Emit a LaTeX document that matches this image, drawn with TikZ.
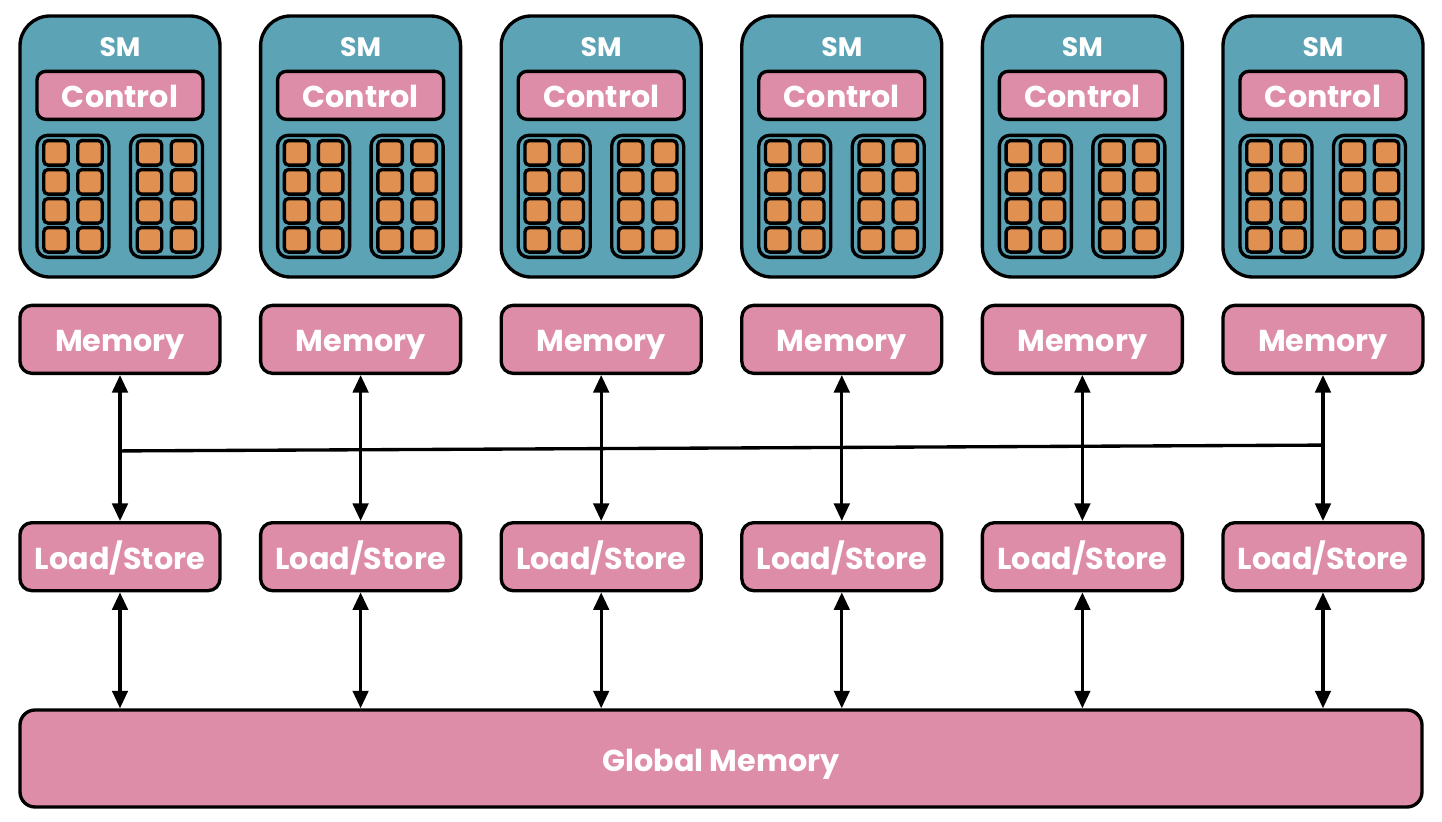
\documentclass[tikz,border=0pt]{standalone}
\usepackage{fontspec}
\setmainfont{Poppins}
\usetikzlibrary{arrows.meta,positioning,calc}
\definecolor{smteal}{RGB}{91,163,181}
\definecolor{boxpink}{RGB}{222,141,168}
\definecolor{coreorange}{RGB}{224,144,80}

\begin{document}
\begin{tikzpicture}[>={Triangle[length=5pt,width=4.4pt]},line width=0.95pt]
  \tikzstyle{smblock}=[draw,fill=smteal,rounded corners=8.5pt,minimum width=2cm,minimum height=2.61cm]
  \tikzstyle{pinkblock}=[draw,fill=boxpink,rounded corners=3.4pt,text=white,font=\bfseries\fontsize{8.6}{10}\selectfont,inner sep=0pt,text height=7.2pt,text depth=0pt]
  \tikzstyle{coregroup}=[draw,rounded corners=3pt,minimum width=0.72cm,minimum height=1.22cm]
  \tikzstyle{coreblock}=[draw,fill=coreorange,rounded corners=1.2pt,minimum size=0.245cm,inner sep=0pt]
  \useasboundingbox (0,0) rectangle (14.42,-8.22);
  \foreach \i in {1,...,6}{
    \node[smblock] (sm\i) at ({1.20+(\i-1)*2.406},-1.465) {};
    \node[text=white,font=\bfseries\fontsize{7.6}{9}\selectfont] (smlbl\i) at ($(sm\i.north)+(0,-0.33)$) {SM};
    \node[pinkblock,minimum width=1.66cm,minimum height=0.48cm,rounded corners=2.5pt] (ctrl\i) at ($(sm\i.north)+(0,-0.81)$) {Control};
    \node[coregroup] (grpL\i) at ($(sm\i.north)+(-0.47,-1.82)$) {};
    \node[coregroup] (grpR\i) at ($(sm\i.north)+(0.465,-1.82)$) {};
    % four rows of two cores in each group
    \foreach \g in {L,R}{
      \foreach \r in {0,...,3}{
        \node[coreblock] (core\i\g\r a) at ($(grp\g\i.center)+(-0.17,0.435-\r*0.29)$) {};
        \node[coreblock] (core\i\g\r b) at ($(grp\g\i.center)+(0.17,0.435-\r*0.29)$) {};
      }
    }
    \node[pinkblock,minimum width=2cm,minimum height=0.68cm,below=0.25cm of sm\i] (mem\i) {Memory};
    \node[pinkblock,minimum width=2cm,minimum height=0.68cm,below=1.46cm of mem\i] (ls\i) {Load/Store};
  }
  \node[pinkblock,minimum width=14.02cm,minimum height=0.97cm,rounded corners=4.3pt] (glob) at (7.21,-7.585) {Global Memory};
  \foreach \i in {1,...,6}{
    \draw[<->] (mem\i) -- (ls\i);
    \draw[<->] (ls\i) -- (ls\i |- glob.north);
  }
  % shared bus between the memories
  \coordinate (busL) at ($(mem1.south)!0.52!(ls1.north)$);
  \coordinate (busR) at ($(mem6.south)!0.48!(ls6.north)$);
  \draw (busL) -- (busR);
\end{tikzpicture}
\end{document}
